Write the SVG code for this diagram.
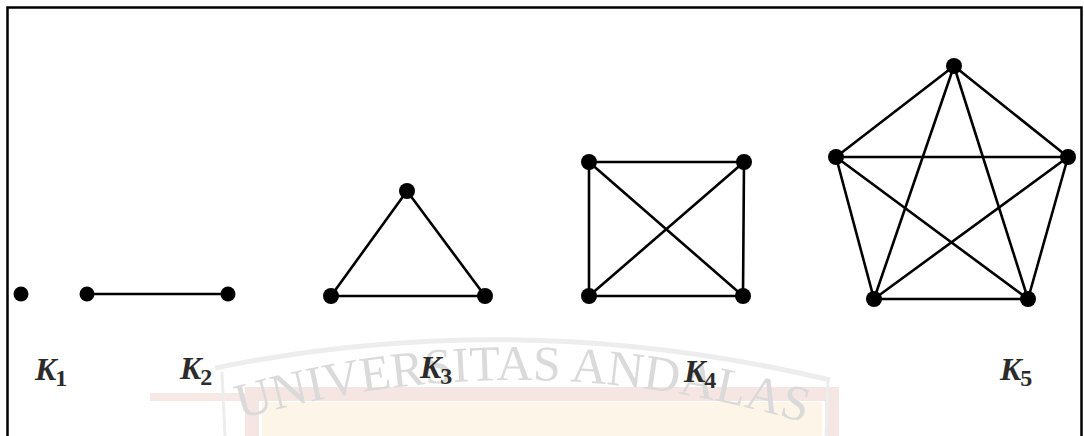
<svg xmlns="http://www.w3.org/2000/svg" width="1084" height="436" viewBox="0 0 1084 436">
<style>
.e{stroke:#000;stroke-width:2.6;fill:none;stroke-linecap:round}
.n{fill:#000}
.lbl{font-family:"Liberation Serif","DejaVu Serif",serif;font-style:italic;font-weight:bold;font-size:32px;fill:#2b2b2b}
.sub{font-family:"Liberation Serif","DejaVu Serif",serif;font-style:normal;font-weight:bold;font-size:24px;fill:#2b2b2b}
.wm{font-family:"Liberation Serif","DejaVu Serif",serif;font-size:50px;fill:#d6d6d6}
</style>
<defs>
<path id="arc" d="M 205 430 Q 520 328 840 434"/>
</defs>
<rect width="1084" height="436" fill="#fff"/>
<g id="watermark" opacity="0.9">
<rect x="150" y="393" width="110" height="8" fill="#f6e6e3"/>
<rect x="252" y="394" width="580" height="50" fill="none" stroke="#f6e4e0" stroke-width="14"/>
<rect x="262" y="402" width="560" height="40" fill="#fdf5e6"/>
<path d="M 215 368 Q 520 306 830 380" fill="none" stroke="#ececec" stroke-width="5"/>
<path d="M 222 372 L 225 436 M 828 382 L 826 436" fill="none" stroke="#ececec" stroke-width="3"/>
<text class="wm"><textPath href="#arc" startOffset="50%" text-anchor="middle">UNIVERSITAS ANDALAS</textPath></text>
</g>
<rect id="frame" x="7.5" y="7.5" width="1074" height="440" fill="none" stroke="#000" stroke-width="2.5"/>
<g id="connectors">
<line class="e" x1="87" y1="294" x2="228" y2="294"/>
<line class="e" x1="407" y1="191" x2="331" y2="296"/>
<line class="e" x1="407" y1="191" x2="485" y2="296"/>
<line class="e" x1="331" y1="296" x2="485" y2="296"/>
<line class="e" x1="589" y1="162" x2="744" y2="162"/>
<line class="e" x1="589" y1="162" x2="589" y2="296"/>
<line class="e" x1="744" y1="162" x2="743" y2="296"/>
<line class="e" x1="589" y1="296" x2="743" y2="296"/>
<line class="e" x1="589" y1="162" x2="743" y2="296"/>
<line class="e" x1="744" y1="162" x2="589" y2="296"/>
<line class="e" x1="954" y1="66" x2="836" y2="157"/>
<line class="e" x1="954" y1="66" x2="1068" y2="157"/>
<line class="e" x1="954" y1="66" x2="874" y2="299"/>
<line class="e" x1="954" y1="66" x2="1028" y2="299"/>
<line class="e" x1="836" y1="157" x2="1068" y2="157"/>
<line class="e" x1="836" y1="157" x2="874" y2="299"/>
<line class="e" x1="836" y1="157" x2="1028" y2="299"/>
<line class="e" x1="1068" y1="157" x2="874" y2="299"/>
<line class="e" x1="1068" y1="157" x2="1028" y2="299"/>
<line class="e" x1="874" y1="299" x2="1028" y2="299"/>
</g>
<g id="K1"><circle class="n" cx="21" cy="294" r="7.5"/></g>
<g id="K2">
<circle class="n" cx="87" cy="294" r="7.5"/>
<circle class="n" cx="228" cy="294" r="7.5"/>
</g>
<g id="K3">
<circle class="n" cx="407" cy="191" r="8"/>
<circle class="n" cx="331" cy="296" r="8"/>
<circle class="n" cx="485" cy="296" r="8"/>
</g>
<g id="K4">
<circle class="n" cx="589" cy="162" r="8"/>
<circle class="n" cx="744" cy="162" r="8"/>
<circle class="n" cx="589" cy="296" r="8"/>
<circle class="n" cx="743" cy="296" r="8"/>
</g>
<g id="K5">
<circle class="n" cx="954" cy="66" r="8"/>
<circle class="n" cx="836" cy="157" r="8"/>
<circle class="n" cx="1068" cy="157" r="8"/>
<circle class="n" cx="874" cy="299" r="8"/>
<circle class="n" cx="1028" cy="299" r="8"/>
</g>
<g id="labels">
<text class="lbl" x="35" y="380">K<tspan class="sub" dx="-1" dy="6">1</tspan></text>
<text class="lbl" x="180" y="379">K<tspan class="sub" dx="-1" dy="6">2</tspan></text>
<text class="lbl" x="420" y="378">K<tspan class="sub" dx="-1" dy="6">3</tspan></text>
<text class="lbl" x="684" y="382">K<tspan class="sub" dx="-1" dy="6">4</tspan></text>
<text class="lbl" x="1000" y="380">K<tspan class="sub" dx="-1" dy="6">5</tspan></text>
</g>
</svg>
